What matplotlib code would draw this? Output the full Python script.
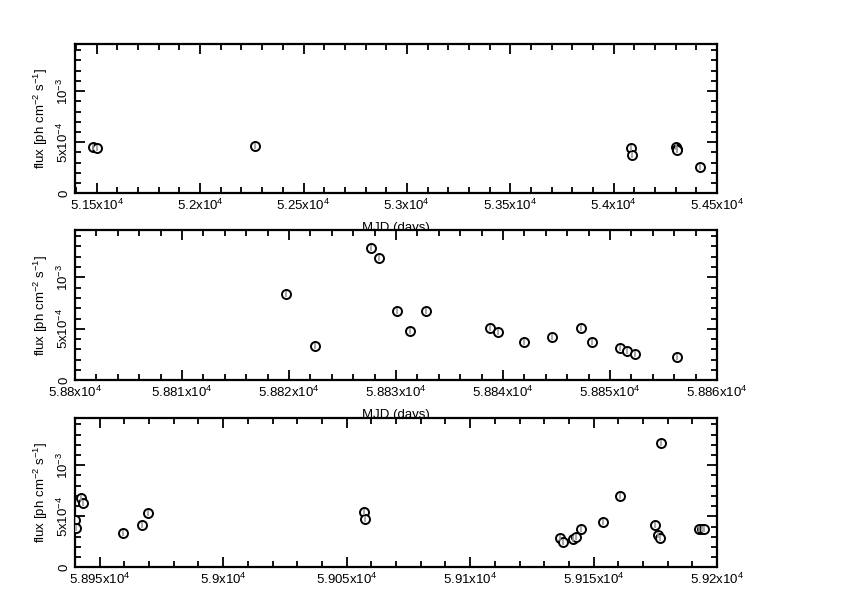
import matplotlib
matplotlib.use("Agg")
import matplotlib.pyplot as plt
from matplotlib.ticker import FixedLocator, FixedFormatter, MultipleLocator

plt.rcParams['font.family'] = ['Liberation Sans', 'DejaVu Sans']
plt.rcParams['mathtext.fontset'] = 'custom'
plt.rcParams['mathtext.rm'] = 'Liberation Sans'
plt.rcParams['mathtext.it'] = 'Liberation Sans:italic'
plt.rcParams['mathtext.bf'] = 'Liberation Sans:bold'

# ---- data ----
mjd1 = [51481, 51503, 52267, 54086, 54090, 54303, 54305, 54306, 54419]
flux1 = [4.58e-4, 4.45e-4, 4.62e-4, 4.45e-4, 3.80e-4, 4.55e-4, 4.38e-4, 4.25e-4, 2.56e-4]

mjd2 = [58819.7, 58822.4, 58827.7, 58828.4, 58830.1, 58831.3, 58832.8, 58838.8,
        58839.5, 58842.0, 58844.6, 58847.3, 58848.3, 58850.9, 58851.6, 58852.3, 58856.3]
flux2 = [8.43e-4, 3.36e-4, 1.287e-3, 1.186e-3, 6.76e-4, 4.80e-4, 6.76e-4, 5.06e-4,
         4.67e-4, 3.69e-4, 4.22e-4, 5.06e-4, 3.75e-4, 3.14e-4, 2.80e-4, 2.51e-4, 2.28e-4]

mjd3 = [58939.9, 58940.5, 58942.6, 58943.4, 58959.6, 58967.2, 58969.7, 59057.1, 59057.6,
        59136.5, 59137.5, 59141.8, 59142.9, 59144.9, 59153.8, 59160.8, 59175.0, 59176.0,
        59176.8, 59177.3, 59192.6, 59194.0, 59194.9]
flux3 = [4.62e-4, 3.90e-4, 6.78e-4, 6.32e-4, 3.34e-4, 4.19e-4, 5.31e-4, 5.47e-4, 4.72e-4,
         2.91e-4, 2.49e-4, 2.81e-4, 2.98e-4, 3.74e-4, 4.42e-4, 6.98e-4, 4.19e-4, 3.18e-4,
         2.88e-4, 1.219e-3, 3.80e-4, 3.80e-4, 3.80e-4]

xticks1 = [51500, 52000, 52500, 53000, 53500, 54000, 54500]
xlabels1 = ['5.15x10$^4$', '5.2x10$^4$', '5.25x10$^4$', '5.3x10$^4$', '5.35x10$^4$', '5.4x10$^4$', '5.45x10$^4$']
xticks2 = [58800, 58810, 58820, 58830, 58840, 58850, 58860]
xlabels2 = ['5.88x10$^4$', '5.881x10$^4$', '5.882x10$^4$', '5.883x10$^4$', '5.884x10$^4$', '5.885x10$^4$', '5.886x10$^4$']
xticks3 = [58950, 59000, 59050, 59100, 59150, 59200]
xlabels3 = ['5.895x10$^4$', '5.9x10$^4$', '5.905x10$^4$', '5.91x10$^4$', '5.915x10$^4$', '5.92x10$^4$']

yticks = [0, 5e-4, 1e-3]
ylabels = ['0', '5x10$^{-4}$', '10$^{-3}$']

xtitle = 'MJD (days)'
ytitle = 'flux [ph cm$^{-2}$ s$^{-1}$]'

panels = [
    (mjd1, flux1, xticks1, xlabels1, (51395, 54500), 100, [0.0891, 0.675, 0.7625, 0.251], True),
    (mjd2, flux2, xticks2, xlabels2, (58800, 58860), 2, [0.0891, 0.3608, 0.7625, 0.2526], True),
    (mjd3, flux3, xticks3, xlabels3, (58940, 59200), 10, [0.0891, 0.0465, 0.7625, 0.2504], False),
]

fig = plt.figure(figsize=(8.42, 5.95), dpi=100)
for i, (mjd, flux, xt, xl, xlim, minor, pos, show_xtitle) in enumerate(panels):
    ax = fig.add_axes(pos)
    ax.set_zorder(i + 1)
    ax.plot(mjd, flux, linestyle='none', marker='o', markersize=6.5,
            markerfacecolor='white', markeredgecolor='black', markeredgewidth=1.4, zorder=3)
    ax.plot(mjd, flux, linestyle='none', marker='|', markersize=4,
            color='#999999', markeredgewidth=1.2, zorder=4)
    ax.set_xlim(*xlim)
    ax.set_ylim(0, 1.46e-3)
    ax.xaxis.set_major_locator(FixedLocator(xt))
    ax.xaxis.set_major_formatter(FixedFormatter(xl))
    ax.xaxis.set_minor_locator(MultipleLocator(minor))
    ax.yaxis.set_major_locator(FixedLocator(yticks))
    ax.yaxis.set_major_formatter(FixedFormatter(ylabels))
    ax.yaxis.set_minor_locator(MultipleLocator(1e-4))
    ax.tick_params(which='both', direction='in', top=True, right=True, width=1.3, labelsize=9.5)
    ax.tick_params(which='major', length=7, pad=3)
    ax.tick_params(which='minor', length=4)
    for lbl in ax.get_yticklabels():
        lbl.set_rotation(90)
        lbl.set_va('center')
    for s in ax.spines.values():
        s.set_linewidth(1.6)
    if show_xtitle:
        ax.set_xlabel(xtitle, fontsize=9.5, labelpad=6.8)
    ax.set_ylabel(ytitle, fontsize=9.5, labelpad=4)

fig.savefig('out.png', dpi=100)
